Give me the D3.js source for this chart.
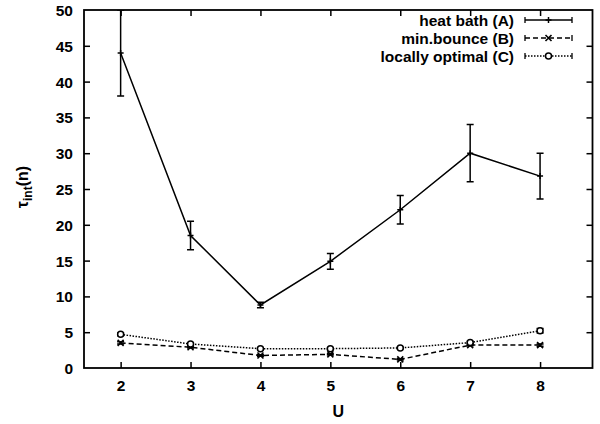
<!DOCTYPE html>
<html><head><meta charset="utf-8">
<script src="https://cdn.jsdelivr.net/npm/d3@7"></script>
<style>body{margin:0;background:#fff}svg{display:block}text{font-family:"Liberation Sans",Arial,sans-serif;font-weight:bold;fill:#000}</style>
</head><body><div id="chart"></div>
<script>
const U = [2, 3, 4, 5, 6, 7, 8];
const heatBath = [44, 18.5, 8.8, 14.9, 22.1, 30, 26.8];
const heatBathErr = [6, 2, 0.4, 1.1, 2, 4, 3.2];
const minBounce = [3.5, 2.9, 1.75, 1.9, 1.2, 3.2, 3.2];
const minBounceErr = [0.15, 0.1, 0.1, 0.1, 0.1, 0.1, 0.15];
const locOpt = [4.7, 3.35, 2.7, 2.7, 2.8, 3.55, 5.2];
const locOptErr = [0.2, 0.15, 0.1, 0.1, 0.1, 0.15, 0.3];
const yTicks = [0, 5, 10, 15, 20, 25, 30, 35, 40, 45, 50];
const seriesNames = ["heat bath (A)", "min.bounce (B)", "locally optimal (C)"];

const W = 600, H = 424;
const L = 84, R = 592.5, T = 10, B = 368;
const FS = "15.5px";
const x = d3.scaleLinear().domain([1.476, 8.75]).range([L, R]);
const y = d3.scaleLinear().domain([0, 50]).range([B, T]);

const svg = d3.select("#chart").append("svg").attr("width", W).attr("height", H);
svg.append("defs").append("clipPath").attr("id", "clip")
  .append("rect").attr("x", L).attr("y", T).attr("width", R - L).attr("height", B - T);

const tl = 6;
const gB = svg.append("g").attr("transform", `translate(0,${B})`)
  .call(d3.axisBottom(x).tickValues(U).tickSize(-tl).tickPadding(12).tickFormat(d3.format("d")));
const gT = svg.append("g").attr("transform", `translate(0,${T})`)
  .call(d3.axisTop(x).tickValues(U).tickSize(-tl).tickFormat(""));
const gL = svg.append("g").attr("transform", `translate(${L},0)`)
  .call(d3.axisLeft(y).tickValues(yTicks).tickSize(-tl).tickPadding(11).tickFormat(d3.format("d")));
const gR = svg.append("g").attr("transform", `translate(${R},0)`)
  .call(d3.axisRight(y).tickValues(yTicks).tickSize(-tl).tickFormat(""));
[gB, gT, gL, gR].forEach(g => {
  g.select(".domain").remove();
  g.selectAll(".tick line").attr("stroke", "#000").attr("stroke-width", 1.5);
  g.selectAll("text").style("font-size", FS).style("font-family", '"Liberation Sans",Arial,sans-serif').style("font-weight", "bold").attr("fill", "#000");
});
gL.selectAll(".tick").filter(d => d === 0 || d === 50).select("line").remove();
gR.selectAll(".tick").filter(d => d === 0 || d === 50).select("line").remove();
gL.selectAll("text").attr("dy", "0.36em");

svg.append("rect").attr("x", L).attr("y", T).attr("width", R - L).attr("height", B - T)
  .attr("fill", "none").attr("stroke", "#000").attr("stroke-width", 1.8);

svg.append("text").attr("x", (L + R) / 2).attr("y", 417).attr("text-anchor", "middle")
  .style("font-size", "16px").text("U");
const yl = svg.append("text").attr("transform", "translate(28,187) rotate(-90)")
  .attr("text-anchor", "middle").style("font-size", "16px");
yl.append("tspan").text("τ");
yl.append("tspan").attr("dy", 4).style("font-size", "12px").text("int");
yl.append("tspan").attr("dy", -4).text("(n)");

const plot = svg.append("g").attr("clip-path", "url(#clip)");
const line = d3.line().x((d, i) => x(U[i])).y(d => y(d));
const series = [
  {vals: heatBath, err: heatBathErr, dash: null, mark: "plus"},
  {vals: minBounce, err: minBounceErr, dash: "5,3", mark: "cross"},
  {vals: locOpt, err: locOptErr, dash: "1.5,1.5", mark: "circle"}
];
function marker(g, type, cx, cy) {
  if (type === "plus") {
    g.append("path").attr("d", `M${cx-3},${cy}H${cx+3}M${cx},${cy-3}V${cy+3}`)
      .attr("stroke", "#000").attr("stroke-width", 1.5).attr("fill", "none");
  } else if (type === "cross") {
    g.append("path").attr("d", `M${cx-3},${cy-3}L${cx+3},${cy+3}M${cx-3},${cy+3}L${cx+3},${cy-3}`)
      .attr("stroke", "#000").attr("stroke-width", 1.6).attr("fill", "none");
  } else {
    g.append("circle").attr("cx", cx).attr("cy", cy).attr("r", 3)
      .attr("stroke", "#000").attr("stroke-width", 1.5).attr("fill", "#fff");
  }
}
series.forEach(s => {
  plot.append("path").datum(s.vals).attr("d", line).attr("fill", "none")
    .attr("stroke", "#000").attr("stroke-width", 1.5).attr("stroke-dasharray", s.dash);
  s.vals.forEach((v, i) => {
    const cx = x(U[i]), y1 = y(v - s.err[i]), y2 = y(v + s.err[i]);
    plot.append("path").attr("d", `M${cx},${y1}V${y2}M${cx-3.5},${y1}H${cx+3.5}M${cx-3.5},${y2}H${cx+3.5}`)
      .attr("stroke", "#000").attr("stroke-width", 1.5).attr("fill", "none");
    marker(plot, s.mark, cx, y(v));
  });
});

const legY = [20, 38, 56];
series.forEach((s, i) => {
  const ly = legY[i];
  svg.append("text").attr("x", 514).attr("y", ly).attr("dy", "0.36em").attr("text-anchor", "end")
    .style("font-size", FS).text(seriesNames[i]);
  const x1 = 525, x2 = 572;
  svg.append("path").attr("d", `M${x1},${ly}H${x2}`).attr("stroke", "#000").attr("stroke-width", 1.3)
    .attr("stroke-dasharray", s.dash);
  svg.append("path").attr("d", `M${x1},${ly-3}V${ly+3}M${x2},${ly-3}V${ly+3}`).attr("stroke", "#000").attr("stroke-width", 1.3);
  marker(svg, s.mark, (x1 + x2) / 2, ly);
});
</script></body></html>
